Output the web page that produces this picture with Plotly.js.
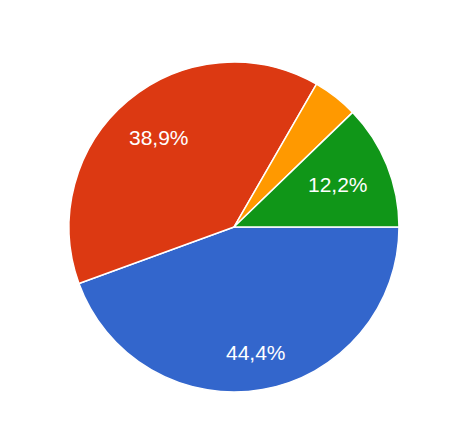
<!DOCTYPE html>
<html>
<head>
<meta charset="utf-8">
<script src="https://cdn.plot.ly/plotly-3.0.1.min.js"></script>
<style>html,body{margin:0;padding:0;background:#fff;}#chart{width:465px;height:441px;}</style>
</head>
<body>
<div id="chart"></div>
<script>
const labels = ["Option 1", "Option 2", "Option 3", "Option 4"];
const values = [40, 35, 4, 11];
const colors = ["#3366cc", "#dc3912", "#ff9900", "#109618"];

const W = 465, H = 441;
const margin = { l: 69, r: 66, t: 62, b: 49 };
const fontFamily = "Arial, 'Liberation Sans', sans-serif";
const fontSize = 21;
const startAngle = 90; // degrees clockwise from 12 o'clock
const labelFarCorner = 0.867; // far corner of label box, as fraction of radius

const total = values.reduce((a, b) => a + b, 0);

// geometry of the pie in pixels
const plotW = W - margin.l - margin.r, plotH = H - margin.t - margin.b;
const R = Math.min(plotW, plotH) / 2;
const cx = margin.l + plotW / 2, cy = margin.t + plotH / 2;

const ctx = document.createElement("canvas").getContext("2d");
ctx.font = fontSize + "px Arial, 'Liberation Sans', sans-serif";

function fmt(v) {
  return (v / total * 100).toFixed(1).replace(".", ",") + "%";
}

const annotations = [];
let acc = 0;
values.forEach((v, i) => {
  const frac = v / total;
  const mid = (startAngle + (acc + frac / 2) * 360) * Math.PI / 180;
  acc += frac;
  if (frac < 0.05) return;
  const txt = fmt(v);
  const w = ctx.measureText(txt).width;
  const h = fontSize * 0.72;
  const ux = Math.sin(mid), uy = -Math.cos(mid); // screen coords, y down
  const ox = Math.sign(ux) * w / 2, oy = Math.sign(uy) * h / 2;
  const uo = ux * ox + uy * oy;
  const R0 = labelFarCorner * R;
  const d = -uo + Math.sqrt(uo * uo - (ox * ox + oy * oy) + R0 * R0);
  const px = cx + d * ux, py = cy + d * uy;
  annotations.push({
    xref: "paper", yref: "paper",
    x: (px - margin.l) / plotW,
    y: (margin.t + plotH - py) / plotH,
    xanchor: "center", yanchor: "middle",
    text: txt, showarrow: false,
    font: { family: fontFamily, size: fontSize, color: "#ffffff" }
  });
});

const trace = {
  type: "pie",
  labels: labels,
  values: values,
  sort: false,
  direction: "clockwise",
  rotation: startAngle,
  marker: { colors: colors, line: { color: "#ffffff", width: 1.5 } },
  textinfo: "none",
  hoverinfo: "none",
  showlegend: false
};

const layout = {
  width: W,
  height: H,
  margin: margin,
  paper_bgcolor: "#ffffff",
  plot_bgcolor: "#ffffff",
  showlegend: false,
  annotations: annotations
};

Plotly.newPlot("chart", [trace], layout, { displayModeBar: false, staticPlot: true });
</script>
</body>
</html>
